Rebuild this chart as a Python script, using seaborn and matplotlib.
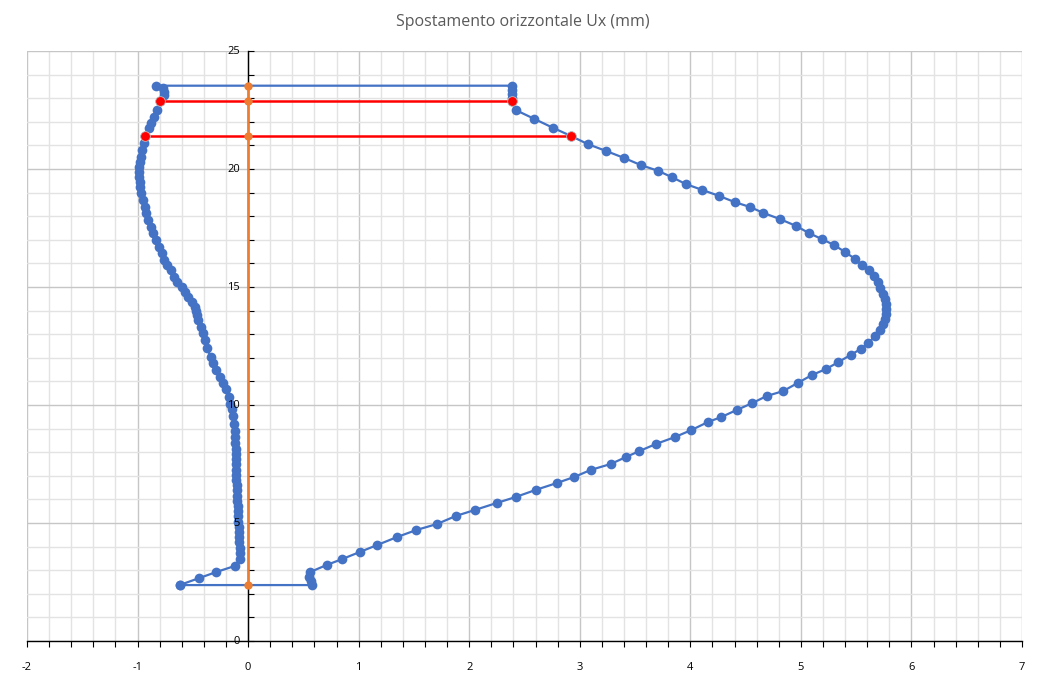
import numpy as np
import seaborn as sns
import matplotlib.pyplot as plt
from matplotlib.ticker import MultipleLocator

# Blue deformed shape (closed path: left side up, top, right side down, bottom)
ux_left = [-0.62, -0.44, -0.29, -0.12, -0.07, -0.07, -0.07, -0.08, -0.08, -0.08, -0.08, -0.09,
           -0.09, -0.09, -0.09, -0.10, -0.10, -0.10, -0.10, -0.11, -0.11, -0.11, -0.11, -0.11,
           -0.11, -0.11, -0.12, -0.12, -0.12, -0.13, -0.14, -0.15, -0.16, -0.17, -0.20, -0.23,
           -0.25, -0.29, -0.32, -0.34, -0.37, -0.39, -0.41, -0.43, -0.45, -0.46, -0.47, -0.48,
           -0.51, -0.54, -0.57, -0.60, -0.64, -0.67, -0.70, -0.73, -0.76, -0.78, -0.81, -0.83,
           -0.86, -0.88, -0.91, -0.92, -0.93, -0.95, -0.97, -0.98, -0.98, -0.99, -0.99, -0.99,
           -0.98, -0.97, -0.96, -0.94, -0.93, -0.90, -0.88, -0.85, -0.82, -0.80, -0.76, -0.76,
           -0.77, -0.83]
z_left = [2.37, 2.67, 2.92, 3.18, 3.47, 3.72, 3.95, 4.18, 4.40, 4.62, 4.84, 5.06,
          5.28, 5.50, 5.72, 5.94, 6.16, 6.38, 6.60, 6.82, 7.04, 7.26, 7.48, 7.70,
          7.92, 8.14, 8.40, 8.66, 8.90, 9.20, 9.55, 9.85, 10.05, 10.35, 10.68, 10.92,
          11.20, 11.48, 11.77, 12.05, 12.40, 12.75, 13.04, 13.32, 13.60, 13.80, 13.98, 14.17,
          14.38, 14.59, 14.80, 14.99, 15.22, 15.44, 15.72, 15.93, 16.14, 16.43, 16.71, 16.99,
          17.28, 17.56, 17.84, 18.12, 18.40, 18.69, 18.97, 19.25, 19.46, 19.67, 19.89, 20.10,
          20.28, 20.52, 20.80, 21.09, 21.41, 21.72, 21.94, 22.22, 22.50, 22.90, 23.14, 23.28,
          23.42, 23.53]
ux_right = [2.39, 2.39, 2.39, 2.39, 2.39, 2.42, 2.59, 2.76, 2.92, 3.07, 3.24, 3.40,
            3.55, 3.71, 3.83, 3.96, 4.11, 4.26, 4.40, 4.54, 4.66, 4.81, 4.96, 5.07,
            5.19, 5.30, 5.40, 5.49, 5.55, 5.62, 5.66, 5.70, 5.72, 5.74, 5.76, 5.77,
            5.77, 5.77, 5.76, 5.74, 5.72, 5.67, 5.61, 5.54, 5.45, 5.34, 5.23, 5.10,
            4.97, 4.84, 4.69, 4.56, 4.42, 4.28, 4.16, 4.01, 3.86, 3.69, 3.54, 3.42,
            3.28, 3.10, 2.95, 2.79, 2.60, 2.42, 2.25, 2.05, 1.88, 1.71, 1.52, 1.35,
            1.17, 1.01, 0.85, 0.71, 0.56, 0.55, 0.57, 0.58, -0.62]
z_right = [23.53, 23.35, 23.18, 23.01, 22.88, 22.50, 22.12, 21.74, 21.40, 21.06, 20.76, 20.47,
           20.17, 19.92, 19.66, 19.36, 19.11, 18.86, 18.60, 18.39, 18.14, 17.88, 17.58, 17.29,
           17.03, 16.78, 16.48, 16.19, 15.93, 15.72, 15.47, 15.21, 14.96, 14.70, 14.49, 14.28,
           14.07, 13.86, 13.64, 13.43, 13.18, 12.92, 12.63, 12.37, 12.12, 11.82, 11.53, 11.27,
           10.93, 10.59, 10.38, 10.08, 9.79, 9.49, 9.28, 8.94, 8.64, 8.35, 8.05, 7.80,
           7.50, 7.25, 6.95, 6.69, 6.40, 6.10, 5.85, 5.55, 5.30, 4.96, 4.70, 4.41,
           4.07, 3.77, 3.47, 3.22, 2.92, 2.71, 2.54, 2.37, 2.37]

# Undeformed axis (orange)
ux_axis = [0, 0, 0, 0]
z_axis = [2.37, 21.41, 22.90, 23.53]

# Red horizontal sections
red_upper_x = [-0.80, 0, 2.39]
red_upper_z = [22.90, 22.90, 22.90]
red_lower_x = [-0.93, 0, 2.92]
red_lower_z = [21.41, 21.41, 21.41]

x_ticks = list(range(-2, 8))
y_ticks = list(range(0, 30, 5))

blue = "#4472C4"
orange = "#ED7D31"
red = "#FF0000"
text_col = "#595959"

sns.set_style("white")
plt.rcParams['font.family'] = ['Open Sans', 'DejaVu Sans']

fig = plt.figure(figsize=(10.44, 6.75), dpi=100)
ax = fig.add_axes([27 / 1044, 1 - 641 / 675, (1022 - 27) / 1044, (641 - 51) / 675])

ux_all = ux_left + ux_right
z_all = z_left + z_right
sns.lineplot(x=ux_all, y=z_all, sort=False, estimator=None, ax=ax, color=blue, lw=1.6,
             marker="o", markersize=7, markeredgewidth=0, zorder=3)
for xs, zs in [(red_upper_x, red_upper_z), (red_lower_x, red_lower_z)]:
    sns.lineplot(x=[xs[0], xs[-1]], y=[zs[0], zs[-1]], sort=False, estimator=None, ax=ax,
                 color=red, lw=1.8, marker="o", markersize=7, markeredgecolor="#BFBFBF",
                 markeredgewidth=0.6, zorder=4)
sns.lineplot(x=ux_axis, y=z_axis, sort=False, estimator=None, ax=ax, color=orange, lw=1.8,
             marker="o", markersize=6, markeredgewidth=0, zorder=5)

ax.set_xlim(-2, 7)
ax.set_ylim(0, 25)
ax.xaxis.set_major_locator(MultipleLocator(1))
ax.xaxis.set_minor_locator(MultipleLocator(0.2))
ax.yaxis.set_major_locator(MultipleLocator(5))
ax.yaxis.set_minor_locator(MultipleLocator(1))
ax.grid(which="major", color="#C6C6C6", lw=1.0, zorder=0)
ax.grid(which="minor", color="#E3E3E3", lw=1.0, zorder=0)
ax.set_axisbelow(True)

for s in ["top", "right"]:
    ax.spines[s].set_visible(False)
ax.spines["left"].set_position(("data", 0))
ax.spines["left"].set_color("black")
ax.spines["left"].set_linewidth(1.0)
ax.spines["bottom"].set_color("black")
ax.spines["bottom"].set_linewidth(1.0)

ax.tick_params(axis="x", which="both", direction="out", length=4, width=0.8,
               color="black", labelsize=8, labelcolor="black", pad=11)
ax.tick_params(axis="y", which="both", direction="in", length=4, width=0.8,
               color="black", labelleft=False)
ax.tick_params(bottom=True, left=True, which="both")
ax.set_xticks(x_ticks)
ax.set_xticklabels([str(v) for v in x_ticks])
ax.set_yticks(y_ticks)
ax.set_xlabel("")
ax.set_ylabel("")
if ax.get_legend() is not None:
    ax.get_legend().remove()

# y tick labels drawn on top of the data, as in the reference
for v in y_ticks:
    ax.annotate(str(v), xy=(0, v), xytext=(-6, 0), textcoords="offset points",
                ha="right", va="center", fontsize=8, color="black", zorder=10,
                annotation_clip=False)

fig.text(523 / 1044, 1 - 22 / 675, "Spostamento orizzontale Ux (mm)", ha="center", va="center",
         fontsize=11.5, color=text_col)

fig.savefig("out.png", dpi=100)
